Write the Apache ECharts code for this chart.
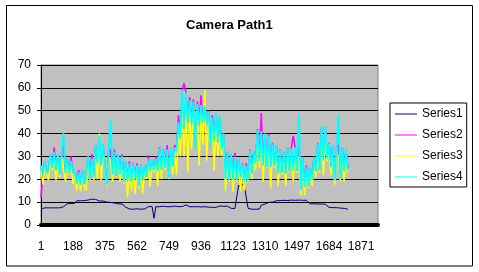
<!DOCTYPE html>
<html><head><meta charset="utf-8">
<script src="https://cdn.jsdelivr.net/npm/echarts/dist/echarts.min.js"></script>
<style>html,body{margin:0;padding:0;background:#fff}#c{width:479px;height:272px}</style>
</head><body><div id="c"></div>
<script>
// Category axis: row numbers sampled every 11 rows (1, 12, 23, ... ); labels every 187 rows
const STEP = 11;
const N_CAT = 180;
const categories = [];
for (let k = 0; k < N_CAT; k++) categories.push(String(1 + STEP * k));

const seriesNames = ['Series1', 'Series2', 'Series3', 'Series4'];
const seriesColors = ['#000080', '#FF00FF', '#FFFF00', '#00FFFF'];

const series1 = [
6.9,6.9,
7.5,7.5,7.5,7.5,7.5,7.5,7.5,7.5,7.5,
8,8,8.1,
9.3,9.4,9.4,9.5,9.5,
10.6,10.7,10.6,10.8,10.7,10.8,10.9,11,
11.3,11.4,11.2,
10.5,10.5,10.4,10.5,10.4,
10,9.9,9.9,9.8,9.6,9.4,9.3,9.2,9.2,
8.5,7.8,7.1,
7,7,6.9,7,7.1,7,6.9,7,7,7.6,8,
8,8.1,
2.9,
8,8.1,8,8,8.2,8,8,8.1,8,8,8.3,8,8,8,8.1,8.9,8.8,8.2,8,8,8,8.1,8,8,7.9,8,8,7.9,7.8,
7.7,7.7,7.8,7.7,7.7,
8.3,8.3,8.2,8.3,8.2,8,
7.3,7.2,7.2,7,
17.5,16.5,18,17,17.8,
7.3,7,6.9,7,6.9,7,7,
8.6,9,9.2,9.3,
9.9,9.9,10,10.2,
10.6,10.6,10.7,10.6,10.8,10.8,10.7,10.8,10.9,10.8,10.8,11,10.9,10.9,10.8,10.9,10.8,10.8,
9.2,9.2,9.3,9.2,9.2,9.2,9.2,9.2,9.1,9.2,
7.7,7.7,7.6,7.8,7.6,
7.3,7.4,7.2,7.3,7.1,6.9
];

const series2 = [
12,22,28,23,24,31,25,34,24,31,
23,32,36,23,29,23,30,23,24,19,
24,18,24,18,22,30,21,31,21,35,
27,36,26,35,25,18,34,32,22,33,
22,31,22,31,19.5,28,20,28,19.5,27,
20.5,27,17.5,26.5,20.5,26,21,30.5,24,28.5,
24,30,24,34,24,33,25,35,21,34,
26,35,33,48,38,59,62,58,45,56,
44,55,34,54,44,56.7,45,53,44,50,
34,48,37,49,36,47,33,40,21,32,
20,31,20,31.6,20,29,21,27,19,27,
19,33,23,32,27,42,28,49,26,40,
26,40,26,36,26,35,23,33,23,32,
23,34,24,34,39,34,24,34,16,30,
17,26,17,25,20,30,24,36,24,43,
29,43,29,36,26,35,20,34,35,20,
34,24,33,25
];

const series3 = [
24,17.6,26,22,19.5,28,24,29,19.5,28,
21,30,30,19,27,22,26,18,22,15,
22,14.8,22,17,15,26,19.5,27,19.5,32,
20,40,19.5,33,24,17,30,28,19,29,
21,28,19,27,18,25,12,25,15,25,
13.6,24,16,24,13.6,24,20,27,16.7,27,
23,27,17,31,20,31,24,31,20,31,
22,32,22,40,30,50,30,52,23,50,
33,50,33,50,26,49,35,59,28,46,
34,44,23.6,45,30,40,30,37,15,29,
19,28,14.6,27,19,27,14.6,25,15,24,
18.5,30,20,30,24,36,25,37,18.8,36,
25,35,15.9,32,25,32,17,30,22,30,
17,31,23,31,18.8,31,23,30,12.9,27,
12.9,23,16,23,17,27,21,32,23,38,
21.8,38,28,32,21.8,32,17.5,31,30,19,
31,19,30,23
];

const series4 = [
26,22,28,23,24,31,25,32,24,31,
22,32,40.5,23,29,22.6,28,23,24,18,
23,17.6,24,18,22,30,20,29,21,35,
27,39,26,35.5,25,17.6,33,46,22,32,
21.5,31,22,30,19,28,19.5,27,19,26.8,
20.2,26,17,26.5,20,26,21,29,23.6,28.5,
24,29,23.6,33.6,24,33,25,33,20.5,34,
25.6,34,32,45,38,59,42,58,45,54.6,
44,54,33,53,44,52.5,45,52,44,49.6,
34,47,37,49,36,48,33,40,20,32,
19.6,31,20,29.7,19.6,29,21,26.8,18.8,26,
19,32.6,22.4,32,27,41.5,28,41,26,40,
25.3,39,25.3,35.6,26,35,22.4,32.6,23,32,
22.4,34,23.6,33.5,24,34,23.6,48.5,15.3,29.7,
16.6,25.3,17,25,19.6,29.7,23.6,35.6,24,43,
28.2,43.5,29,35.6,25.3,35,19.6,34,48.4,20,
34,23.6,33,24
];

const yTicks = { min: 0, max: 70, interval: 10 };
const FONT = "'Liberation Sans', Arial, sans-serif";
const lineWidths = [1, 1.5, 1.5, 1.8];

const chart = echarts.init(document.getElementById('c'), null, { renderer: 'canvas' });
const dataList = [series1, series2, series3, series4];

chart.setOption({
  animation: false,
  backgroundColor: '#ffffff',
  title: {
    text: 'Camera Path1',
    left: 186, top: 19, padding: 0,
    textStyle: { fontFamily: FONT, fontSize: 13, fontWeight: 'bold', color: '#000' }
  },
  grid: {
    left: 41, right: 101, top: 65, bottom: 47,
    show: true, backgroundColor: '#C0C0C0', borderColor: '#808080', borderWidth: 1
  },
  legend: {
    orient: 'vertical',
    left: 390, top: 103,
    padding: [4, 4, 3, 5],
    itemGap: 7,
    icon: 'rect',
    itemWidth: 22, itemHeight: 1,
    backgroundColor: '#fff', borderColor: '#000', borderWidth: 1, borderRadius: 0,
    textStyle: { fontFamily: FONT, fontSize: 12, color: '#000', lineHeight: 14, height: 14 },
    data: seriesNames
  },
  xAxis: {
    type: 'category',
    data: categories,
    boundaryGap: false,
    offset: 2,
    axisLine: { show: true, lineStyle: { color: '#000', width: 4 } },
    axisTick: { show: false },
    axisLabel: { interval: 16, margin: 14, fontFamily: FONT, fontSize: 12, color: '#000' },
    splitLine: { show: false }
  },
  yAxis: {
    type: 'value',
    min: yTicks.min, max: yTicks.max, interval: yTicks.interval,
    axisLine: { show: true, lineStyle: { color: '#000', width: 1 } },
    axisTick: { show: true, length: 4, lineStyle: { color: '#000' } },
    axisLabel: { margin: 10, fontFamily: FONT, fontSize: 12, color: '#000' },
    splitLine: { show: true, lineStyle: { color: '#000', width: 1 } }
  },
  graphic: [{
    type: 'rect', silent: true, z: 100,
    shape: { x: 6.5, y: 5.5, width: 466, height: 260.5 },
    style: { fill: 'none', stroke: '#000', lineWidth: 1 }
  }],
  series: seriesNames.map((name, i) => ({
    name: name,
    type: 'line',
    data: dataList[i],
    symbol: 'none',
    showSymbol: false,
    color: seriesColors[i],
    lineStyle: { color: seriesColors[i], width: lineWidths[i] },
    itemStyle: { color: seriesColors[i] }
  }))
});
</script>
</body></html>
